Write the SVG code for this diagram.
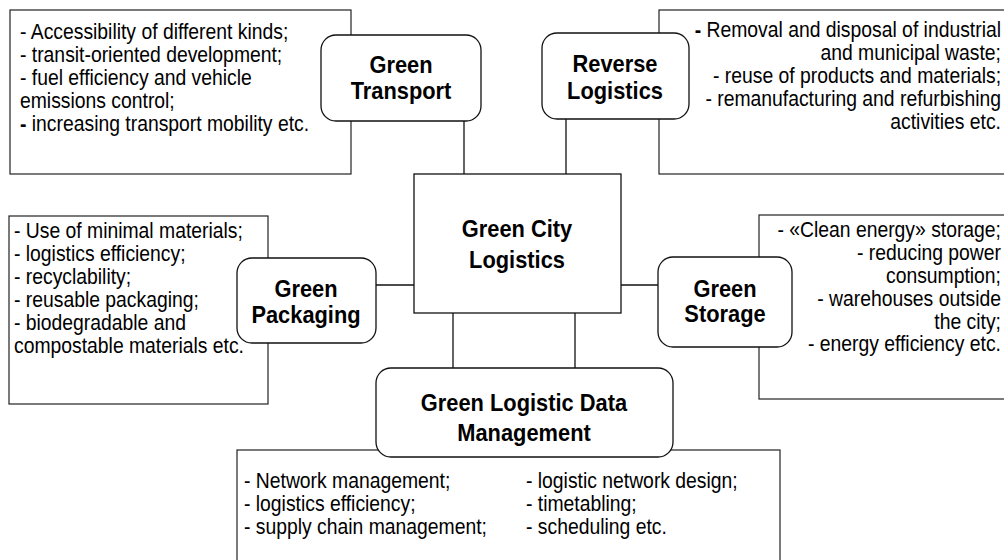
<svg xmlns="http://www.w3.org/2000/svg" width="1004" height="560" viewBox="0 0 1004 560">
<style>
.tb{fill:#fff;stroke:#222;stroke-width:1.2}
.nd{fill:#fff;stroke:#111;stroke-width:1.3}
.t{font-family:"Liberation Sans",Arial,sans-serif;font-size:21.5px;fill:#000}
.r{text-anchor:end}
.h{font-family:"Liberation Sans",Arial,sans-serif;font-size:23px;font-weight:bold;fill:#000;text-anchor:middle}
.c{stroke:#111;stroke-width:1.3;fill:none}
</style>
<rect width="1004" height="560" fill="#fff"/>
<g id="textboxes">
<g id="tb-transport">
<rect class="tb" x="10" y="10" width="341" height="164"/>
<g transform="translate(20,0) scale(0.9,1)">
<text class="t" x="0" y="39">- Accessibility of different kinds;</text>
<text class="t" x="0" y="62">- transit-oriented development;</text>
<text class="t" x="0" y="85">- fuel efficiency and vehicle</text>
<text class="t" x="0" y="108">emissions control;</text>
<text class="t" x="0" y="131"><tspan font-weight="bold">-</tspan> increasing transport mobility etc.</text>
</g>
</g>
<g id="tb-reverse">
<rect class="tb" x="659" y="10" width="360" height="164"/>
<g transform="translate(1001,0) scale(0.9,1)">
<text class="t r" x="0" y="37"><tspan font-weight="bold">-</tspan> Removal and disposal of industrial</text>
<text class="t r" x="0" y="60">and municipal waste;</text>
<text class="t r" x="0" y="83">- reuse of products and materials;</text>
<text class="t r" x="0" y="106">- remanufacturing and refurbishing</text>
<text class="t r" x="0" y="129">activities etc.</text>
</g>
</g>
<g id="tb-packaging">
<rect class="tb" x="9" y="216" width="259" height="188"/>
<g transform="translate(14,0) scale(0.9,1)">
<text class="t" x="0" y="238">- Use of minimal materials;</text>
<text class="t" x="0" y="261">- logistics efficiency;</text>
<text class="t" x="0" y="284">- recyclability;</text>
<text class="t" x="0" y="307">- reusable packaging;</text>
<text class="t" x="0" y="330">- biodegradable and</text>
<text class="t" x="0" y="353">compostable materials etc.</text>
</g>
</g>
<g id="tb-storage">
<rect class="tb" x="759" y="215" width="260" height="184"/>
<g transform="translate(1001,0) scale(0.9,1)">
<text class="t r" x="0" y="237">- «Clean energy» storage;</text>
<text class="t r" x="0" y="260">- reducing power</text>
<text class="t r" x="0" y="283">consumption;</text>
<text class="t r" x="0" y="306">- warehouses outside</text>
<text class="t r" x="0" y="329">the city;</text>
<text class="t r" x="0" y="351">- energy efficiency etc.</text>
</g>
</g>
<g id="tb-data">
<rect class="tb" x="237" y="450" width="543" height="130"/>
<g transform="translate(244,0) scale(0.9,1)">
<text class="t" x="0" y="488">- Network management;</text>
<text class="t" x="0" y="511">- logistics efficiency;</text>
<text class="t" x="0" y="534">- supply chain management;</text>
</g>
<g transform="translate(526,0) scale(0.9,1)">
<text class="t" x="0" y="488">- logistic network design;</text>
<text class="t" x="0" y="511">- timetabling;</text>
<text class="t" x="0" y="534">- scheduling etc.</text>
</g>
</g>
</g>
<g id="connectors">
<line class="c" x1="464" y1="121" x2="464" y2="174"/>
<line class="c" x1="566" y1="119" x2="566" y2="174"/>
<line class="c" x1="453" y1="313" x2="453" y2="368"/>
<line class="c" x1="575" y1="313" x2="575" y2="368"/>
<line class="c" x1="376" y1="285" x2="414" y2="285"/>
<line class="c" x1="621" y1="285" x2="658" y2="285"/>
</g>
<g id="center">
<rect class="nd" x="414" y="174" width="207" height="139"/>
<g transform="translate(517,0) scale(0.95,1)">
<text class="h" x="0" y="237">Green City</text>
<text class="h" x="0" y="268">Logistics</text>
</g>
</g>
<g id="green-transport">
<rect class="nd" x="321" y="35" width="160" height="86" rx="15"/>
<g transform="translate(401,0) scale(0.95,1)">
<text class="h" x="0" y="73">Green</text>
<text class="h" x="0" y="99">Transport</text>
</g>
</g>
<g id="reverse-logistics">
<rect class="nd" x="542" y="33" width="147" height="86" rx="15"/>
<g transform="translate(615,0) scale(0.95,1)">
<text class="h" x="0" y="72">Reverse</text>
<text class="h" x="0" y="99">Logistics</text>
</g>
</g>
<g id="green-packaging">
<rect class="nd" x="237" y="258" width="139" height="85" rx="15"/>
<g transform="translate(306,0) scale(0.95,1)">
<text class="h" x="0" y="297">Green</text>
<text class="h" x="0" y="323">Packaging</text>
</g>
</g>
<g id="green-storage">
<rect class="nd" x="658" y="257" width="134" height="90" rx="15"/>
<g transform="translate(725,0) scale(0.95,1)">
<text class="h" x="0" y="297">Green</text>
<text class="h" x="0" y="322">Storage</text>
</g>
</g>
<g id="data-management">
<rect class="nd" x="376" y="368" width="297" height="89" rx="15"/>
<g transform="translate(524,0) scale(0.95,1)">
<text class="h" x="0" y="411">Green Logistic Data</text>
<text class="h" x="0" y="441">Management</text>
</g>
</g>
</svg>
